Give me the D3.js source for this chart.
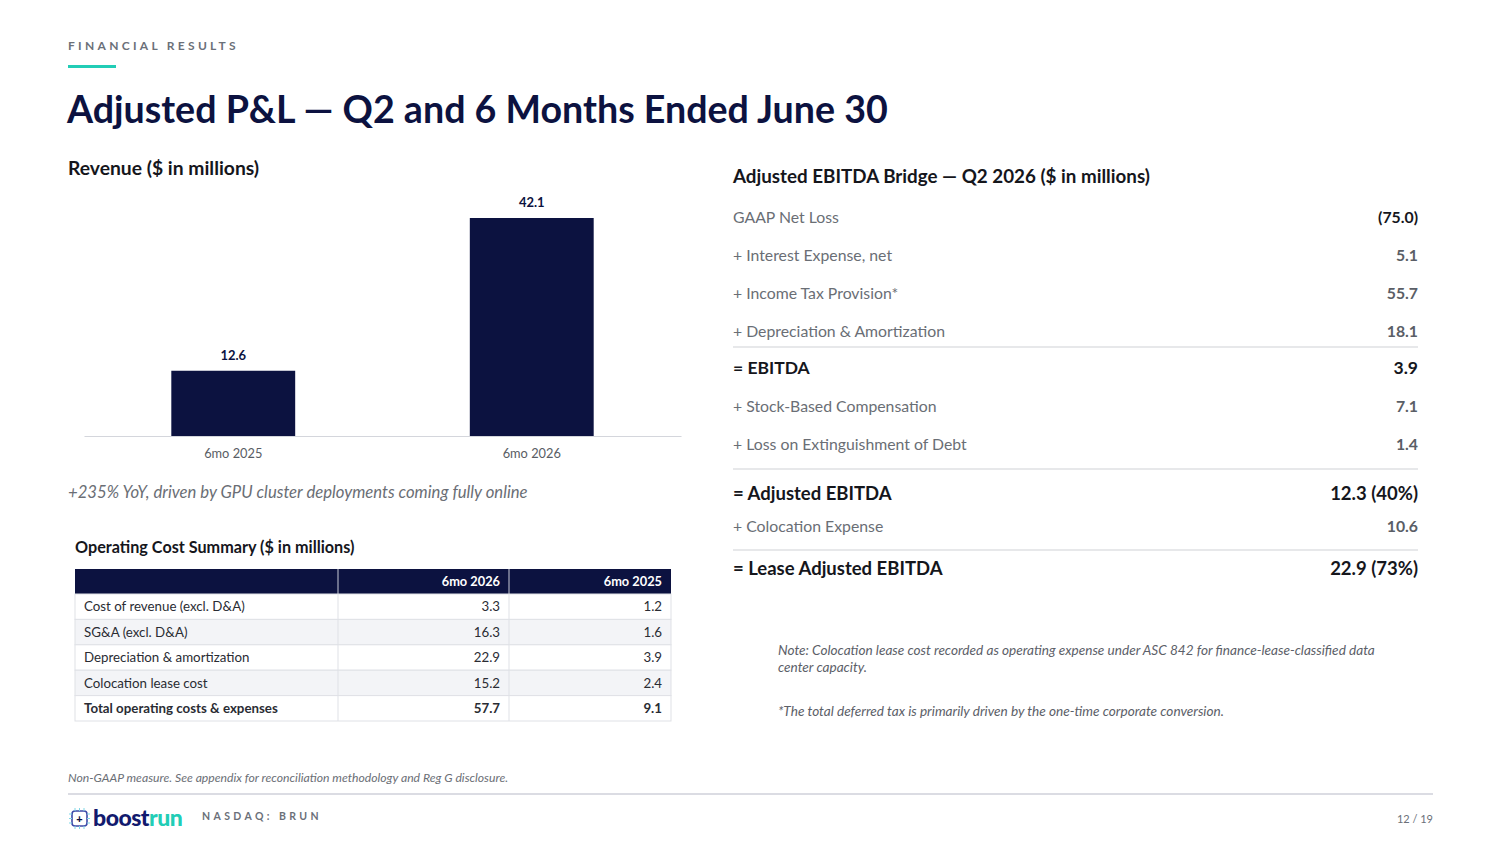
<!DOCTYPE html>
<html>
<head>
<meta charset="utf-8">
<script src="https://cdn.jsdelivr.net/npm/d3@7"></script>
<style>
  html,body{margin:0;padding:0;background:#fff;}
  svg{display:block;font-family:Lato, "Open Sans", sans-serif;}
</style>
</head>
<body>
<svg id="chart" width="1500" height="843"></svg>
<script>
// ---------------- DATA ----------------
const revenueCategories = ["6mo 2025", "6mo 2026"];
const revenueValues = [12.6, 42.1];

const costColumns = ["6mo 2026", "6mo 2025"];
const costRows = ["Cost of revenue (excl. D&A)", "SG&A (excl. D&A)", "Depreciation & amortization", "Colocation lease cost", "Total operating costs & expenses"];
const cost2026 = [3.3, 16.3, 22.9, 15.2, 57.7];
const cost2025 = [1.2, 1.6, 3.9, 2.4, 9.1];

const bridgeLabels = ["GAAP Net Loss", "+ Interest Expense, net", "+ Income Tax Provision*", "+ Depreciation & Amortization", "= EBITDA", "+ Stock-Based Compensation", "+ Loss on Extinguishment of Debt", "= Adjusted EBITDA", "+ Colocation Expense", "= Lease Adjusted EBITDA"];
const bridgeValues = ["(75.0)", "5.1", "55.7", "18.1", "3.9", "7.1", "1.4", "12.3 (40%)", "10.6", "22.9 (73%)"];
const bridgeIsTotal = [false, false, false, false, true, false, false, true, false, true];

// ---------------- DRAW ----------------
const NAVY = "#0c1240", TEAL = "#22cdb6", LINE = "#d4d6dc";
const svg = d3.select("#chart");
svg.append("rect").attr("width", 1500).attr("height", 843).attr("fill", "#fff");

// Header
svg.append("text").attr("x", 68).attr("y", 50).text("FINANCIAL RESULTS")
  .attr("font-size", 12).attr("font-weight", 700).attr("letter-spacing", 3.3).attr("fill", "#6b7079");
svg.append("rect").attr("x", 68).attr("y", 65).attr("width", 48).attr("height", 3).attr("fill", TEAL);
svg.append("text").attr("x", 67).attr("y", 123).text("Adjusted P&L — Q2 and 6 Months Ended June 30")
  .attr("font-size", 37.6).attr("font-weight", 700).attr("fill", NAVY);

// Revenue chart
svg.append("text").attr("x", 68).attr("y", 175).text("Revenue ($ in millions)")
  .attr("font-size", 19.3).attr("font-weight", 700).attr("fill", "#15161c");

const x = d3.scaleBand().domain(revenueCategories).range([84, 681]).paddingInner(0.585).paddingOuter(0.2925);
const y = d3.scaleLinear().domain([0, 42.1]).range([436, 218]);
const revData = revenueCategories.map((c, i) => ({c, v: revenueValues[i]}));

svg.selectAll("rect.bar").data(revData).join("rect").attr("class", "bar")
  .attr("x", d => x(d.c)).attr("width", x.bandwidth())
  .attr("y", d => y(d.v)).attr("height", d => y(0) - y(d.v)).attr("fill", NAVY);
svg.selectAll("text.val").data(revData).join("text").attr("class", "val")
  .attr("x", d => x(d.c) + x.bandwidth() / 2).attr("y", d => y(d.v) - 11)
  .attr("text-anchor", "middle").attr("font-size", 13).attr("font-weight", 700).attr("fill", NAVY)
  .text(d => d.v.toFixed(1));

const xAxis = svg.append("g").attr("transform", `translate(0,${y(0)})`)
  .call(d3.axisBottom(x).tickSize(0).tickPadding(13));
xAxis.select(".domain").attr("stroke", LINE).attr("stroke-width", 1.2);
xAxis.selectAll("text").attr("font-size", 12.8).attr("fill", "#595d64").attr("font-family", "Lato, sans-serif");

svg.append("text").attr("x", 68).attr("y", 498).text("+235% YoY, driven by GPU cluster deployments coming fully online")
  .attr("font-size", 16.7).attr("font-style", "italic").attr("fill", "#6a6e75");

// Operating cost table
svg.append("text").attr("x", 75).attr("y", 553).text("Operating Cost Summary ($ in millions)")
  .attr("font-size", 16.2).attr("font-weight", 700).attr("fill", "#15161c");

const colX = [75, 338, 509, 671];
const tTop = 569, headH = 25, rowH = 25.4;
const tbl = svg.append("g");
tbl.append("rect").attr("x", colX[0]).attr("y", tTop).attr("width", colX[3] - colX[0]).attr("height", headH).attr("fill", NAVY);
costColumns.forEach((c, j) => {
  tbl.append("text").attr("x", colX[j + 2] - 9).attr("y", tTop + headH / 2 + 4.5).attr("text-anchor", "end")
    .attr("font-size", 12.8).attr("font-weight", 700).attr("fill", "#fff").text(c);
});
[colX[1], colX[2]].forEach(cx => {
  tbl.append("line").attr("x1", cx).attr("x2", cx).attr("y1", tTop).attr("y2", tTop + headH).attr("stroke", "#c8cad6").attr("stroke-width", 1);
});
costRows.forEach((r, i) => {
  const ry = tTop + headH + i * rowH;
  const isTotal = i === costRows.length - 1;
  tbl.append("rect").attr("x", colX[0]).attr("y", ry).attr("width", colX[3] - colX[0]).attr("height", rowH)
    .attr("fill", i % 2 === 1 ? "#f3f4f7" : "#fff").attr("stroke", "#dfe1e6").attr("stroke-width", 1);
  const fw = isTotal ? 700 : 400;
  tbl.append("text").attr("x", colX[0] + 9).attr("y", ry + rowH / 2 + 4.7).attr("font-size", 13.3)
    .attr("font-weight", fw).attr("fill", "#2a2c33").text(r);
  tbl.append("text").attr("x", colX[2] - 9).attr("y", ry + rowH / 2 + 4.7).attr("font-size", 13.3).attr("text-anchor", "end")
    .attr("font-weight", fw).attr("fill", "#2a2c33").text(cost2026[i].toFixed(1));
  tbl.append("text").attr("x", colX[3] - 9).attr("y", ry + rowH / 2 + 4.7).attr("font-size", 13.3).attr("text-anchor", "end")
    .attr("font-weight", fw).attr("fill", "#2a2c33").text(cost2025[i].toFixed(1));
});
[colX[1], colX[2]].forEach(cx => {
  tbl.append("line").attr("x1", cx).attr("x2", cx).attr("y1", tTop + headH).attr("y2", tTop + headH + costRows.length * rowH).attr("stroke", "#dfe1e6");
});

// EBITDA bridge
svg.append("text").attr("x", 733).attr("y", 183).text("Adjusted EBITDA Bridge — Q2 2026 ($ in millions)")
  .attr("font-size", 18.8).attr("font-weight", 700).attr("fill", "#15161c");

const bL = 733, bR = 1418;
// vertical layout of the bridge rows (centre lines)
const rowCentres = [217, 255, 293, 331, 368, 406, 444, 493, 526, 568];
const sepLines = [347, 469, 550];
sepLines.forEach(ly => svg.append("line").attr("x1", bL).attr("x2", bR).attr("y1", ly).attr("y2", ly).attr("stroke", "#cfd1d6").attr("stroke-width", 1.2));

bridgeLabels.forEach((lab, i) => {
  const tot = bridgeIsTotal[i];
  const cy = rowCentres[i];
  const fs = tot ? (i === 4 ? 17.5 : 18.5) : 15.8;
  svg.append("text").attr("x", bL).attr("y", cy + fs * 0.36).attr("font-size", fs)
    .attr("font-weight", tot ? 700 : 400).attr("fill", tot ? "#15161c" : "#6a6e75").text(lab);
  svg.append("text").attr("x", bR).attr("y", cy + fs * 0.36).attr("font-size", fs).attr("text-anchor", "end")
    .attr("font-weight", 700).attr("fill", tot || i === 0 ? "#15161c" : "#5a5e66").text(bridgeValues[i]);
});

// Notes
const note = svg.append("g").attr("font-size", 13.6).attr("font-style", "italic").attr("fill", "#5c6068");
note.append("text").attr("x", 778).attr("y", 655).text("Note: Colocation lease cost recorded as operating expense under ASC 842 for finance-lease-classified data");
note.append("text").attr("x", 778).attr("y", 672).text("center capacity.");
note.append("text").attr("x", 778).attr("y", 716).text("*The total deferred tax is primarily driven by the one-time corporate conversion.");

// Footer
svg.append("text").attr("x", 68).attr("y", 782).text("Non-GAAP measure. See appendix for reconciliation methodology and Reg G disclosure.")
  .attr("font-size", 12.2).attr("font-style", "italic").attr("fill", "#6a6e75");
svg.append("line").attr("x1", 68).attr("x2", 1433).attr("y1", 794).attr("y2", 794).attr("stroke", "#cfd1da").attr("stroke-width", 1.5);

// Logo
const logo = svg.append("g").attr("transform", "translate(69,808)");
logo.append("rect").attr("x", 3).attr("y", 3).attr("width", 15).attr("height", 15).attr("rx", 3)
  .attr("fill", "none").attr("stroke", "#3d4aa8").attr("stroke-width", 1.6);
[6, 10.5, 15].forEach(p => {
  logo.append("line").attr("x1", p).attr("x2", p).attr("y1", 0).attr("y2", 3).attr("stroke", "#7fd7e6").attr("stroke-width", 1);
  logo.append("line").attr("x1", p).attr("x2", p).attr("y1", 18).attr("y2", 21).attr("stroke", "#7fd7e6").attr("stroke-width", 1);
  logo.append("line").attr("y1", p).attr("y2", p).attr("x1", 0).attr("x2", 3).attr("stroke", "#7fd7e6").attr("stroke-width", 1);
  logo.append("line").attr("y1", p).attr("y2", p).attr("x1", 18).attr("x2", 21).attr("stroke", "#7fd7e6").attr("stroke-width", 1);
});
logo.append("text").attr("x", 10.5).attr("y", 14.5).attr("text-anchor", "middle").attr("font-size", 11).attr("font-weight", 900).attr("fill", NAVY).text("+");
const lt = svg.append("text").attr("x", 93).attr("y", 826).attr("font-size", 23).attr("font-weight", 900).attr("letter-spacing", -0.5);
lt.append("tspan").attr("fill", "#121a6e").text("boost");
lt.append("tspan").attr("fill", TEAL).text("run");

svg.append("text").attr("x", 202).attr("y", 820).text("NASDAQ: BRUN")
  .attr("font-size", 10.5).attr("font-weight", 700).attr("letter-spacing", 3.4).attr("fill", "#6b7079");
svg.append("text").attr("x", 1433).attr("y", 823).attr("text-anchor", "end").text("12 / 19")
  .attr("font-size", 11).attr("fill", "#6b7079");
</script>
</body>
</html>
